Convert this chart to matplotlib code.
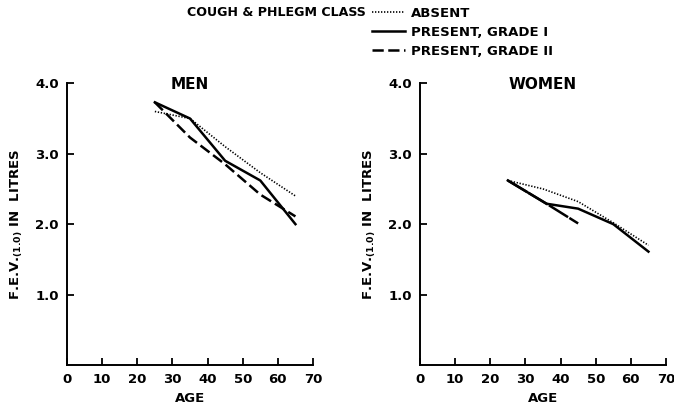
import numpy as np
import matplotlib
matplotlib.use("Agg")
import matplotlib.pyplot as plt
from matplotlib.lines import Line2D

plt.rcParams['font.family'] = ['DejaVu Sans']
plt.rcParams['font.weight'] = 'bold'
plt.rcParams['mathtext.default'] = 'bf'

# FEV(1.0) by age group, men
men_age = [25, 35, 45, 55, 65]
men_absent = [3.60, 3.50, 3.10, 2.73, 2.40]
men_grade1 = [3.73, 3.50, 2.90, 2.62, 2.00]
men_grade2 = [3.73, 3.23, 2.85, 2.42, 2.11]

# FEV(1.0) by age group, women
women_age = [25, 35, 45, 55, 65]
women_absent = [2.62, 2.50, 2.32, 2.02, 1.70]
women_grade1_age = [25, 36, 45, 55, 65]
women_grade1 = [2.62, 2.29, 2.22, 2.00, 1.61]
women_grade2_age = [25, 36, 45]
women_grade2 = [2.62, 2.29, 2.01]

x_ticks = [0, 10, 20, 30, 40, 50, 60, 70]
y_ticks = [1.0, 2.0, 3.0, 4.0]

dotted = dict(color='black', lw=1.2, linestyle=(0, (0.8, 1.0)))
solid = dict(color='black', lw=1.8, linestyle='-')
dashed = dict(color='black', lw=1.8, linestyle=(0, (4.5, 1.8)))

fig = plt.figure(figsize=(6.74, 4.04), dpi=100)
W, H = 674, 404


def make_axes(left_px, title):
    ax = fig.add_axes([left_px / W, 39 / H, 246 / W, (365 - 83.3) / H])
    ax.set_xlim(0, 70)
    ax.set_ylim(0, 4.0)
    for s in ['top', 'right']:
        ax.spines[s].set_visible(False)
    for s in ['left', 'bottom']:
        ax.spines[s].set_linewidth(1.4)
    ax.set_xticks(x_ticks)
    ax.set_yticks(y_ticks)
    ax.set_xticklabels([str(t) for t in x_ticks])
    ax.set_yticklabels(['%.1f' % t for t in y_ticks])
    ax.tick_params(direction='in', length=5, width=1.3, labelsize=9.5, pad=6)
    ax.set_xlabel('AGE', fontsize=9.5, fontweight='bold', labelpad=4)
    ax.set_ylabel(r'F.E.V.$_{(1.0)}$ IN  LITRES', fontsize=9.5, fontweight='bold', labelpad=7)
    ax.text(0.5, 1.022, title, transform=ax.transAxes, ha='center', va='top',
            fontsize=11, fontweight='bold')
    return ax


ax1 = make_axes(67, 'MEN')
ax1.plot(men_age, men_absent, **dotted)
ax1.plot(men_age, men_grade1, **solid)
ax1.plot(men_age, men_grade2, **dashed)

ax2 = make_axes(420, 'WOMEN')
ax2.plot(women_age, women_absent, **dotted)
ax2.plot(women_grade1_age, women_grade1, **solid)
ax2.plot(women_grade2_age, women_grade2, color='black', lw=1.8, linestyle=(0, (9, 0.6)))

# key at the top
fig.text(187 / W, 1 - 13 / H, 'COUGH & PHLEGM CLASS', ha='left', va='center',
         fontsize=9.1, fontweight='bold')
handles = [Line2D([], [], **dotted), Line2D([], [], **solid), Line2D([], [], **dashed)]
labels = ['ABSENT', 'PRESENT, GRADE I', 'PRESENT, GRADE II']
fig.legend(handles, labels, loc='upper left', bbox_to_anchor=(372 / W, 1 - 7 / H),
           frameon=False, fontsize=9.5, handlelength=2.5, handletextpad=0.45,
           labelspacing=0.45, borderpad=0, borderaxespad=0)

fig.savefig('out.png', dpi=100)
